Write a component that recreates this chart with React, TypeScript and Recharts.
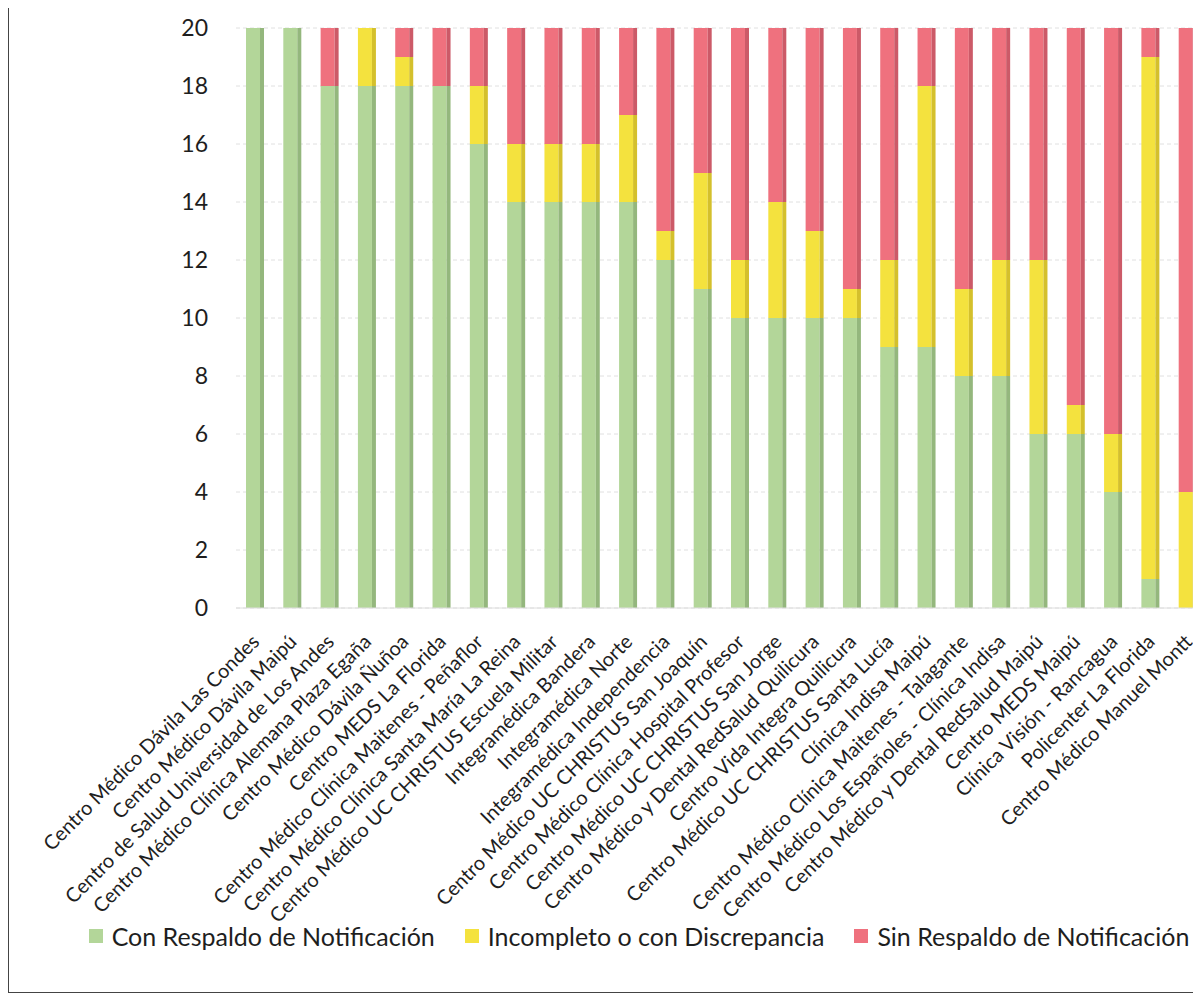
import { BarChart, Bar, XAxis, YAxis, CartesianGrid, Legend } from "recharts";

const centros = [
  "Centro Médico Dávila Las Condes",
  "Centro Médico Dávila Maipú",
  "Centro de Salud Universidad de Los Andes",
  "Centro Médico Clínica Alemana Plaza Egaña",
  "Centro Médico Dávila Ñuñoa",
  "Centro MEDS La Florida",
  "Centro Médico Clínica Maitenes - Peñaflor",
  "Centro Médico Clínica Santa María La Reina",
  "Centro Médico UC CHRISTUS Escuela Militar",
  "Integramédica Bandera",
  "Integramédica Norte",
  "Integramédica Independencia",
  "Centro Médico UC CHRISTUS San Joaquín",
  "Centro Médico Clínica Hospital Profesor",
  "Centro Médico UC CHRISTUS San Jorge",
  "Centro Médico y Dental RedSalud Quilicura",
  "Centro Vida Integra Quilicura",
  "Centro Médico UC CHRISTUS Santa Lucía",
  "Clínica Indisa Maipú",
  "Centro Médico Clínica Maitenes - Talagante",
  "Centro Médico Los Españoles - Clínica Indisa",
  "Centro Médico y Dental RedSalud Maipú",
  "Centro MEDS Maipú",
  "Clínica Visión - Rancagua",
  "Policenter La Florida",
  "Centro Médico Manuel Montt",
];

const conRespaldo = [20, 20, 18, 18, 18, 18, 16, 14, 14, 14, 14, 12, 11, 10, 10, 10, 10, 9, 9, 8, 8, 6, 6, 4, 1, 0];
const incompleto = [0, 0, 0, 2, 1, 0, 2, 2, 2, 2, 3, 1, 4, 2, 4, 3, 1, 3, 9, 3, 4, 6, 1, 2, 18, 4];
const sinRespaldo = [0, 0, 2, 0, 1, 2, 2, 4, 4, 4, 3, 7, 5, 8, 6, 7, 9, 8, 2, 9, 8, 8, 13, 14, 1, 16];

const yTicks = [0, 2, 4, 6, 8, 10, 12, 14, 16, 18, 20];

const data = centros.map((nombre, i) => ({
  nombre,
  con: conRespaldo[i],
  inc: incompleto[i],
  sin: sinRespaldo[i],
}));

const FONT = "Lato, 'Open Sans', sans-serif";

// barra con cara lateral oscura, imitando el 3D de Excel
const bar3d = (side: string) => (props: any) => {
  const { x, y, width, height, fill } = props;
  if (!height || height <= 0) return <g />;
  const s = 4;
  return (
    <g>
      <rect x={x} y={y} width={width - s} height={height} fill={fill} />
      <rect x={x + width - s} y={y} width={s} height={height} fill={side} />
    </g>
  );
};

const SlantTick = (props: any) => {
  const { x, y, payload } = props;
  return (
    <g transform={`translate(${x + 6},${y + 27})`}>
      <text
        textAnchor="end"
        transform="rotate(-45)"
        fontSize={20}
        fontFamily={FONT}
        fill="#1e1e1e"
      >
        {payload.value}
      </text>
    </g>
  );
};

const LegendBox = ({ payload }: any) => (
  <div style={{ display: "flex", justifyContent: "center", fontFamily: FONT, fontSize: 25, color: "#1e1e1e" }}>
    {payload.map((p: any, i: number) => (
      <div key={p.value} style={{ display: "flex", alignItems: "center", marginLeft: i ? 30 : 0 }}>
        <span style={{ width: 14, height: 14, background: p.color, display: "inline-block", marginRight: 9 }} />
        {p.value}
      </div>
    ))}
  </div>
);

export default function App() {
  return (
    <div
      style={{
        width: 1192,
        height: 984,
        borderLeft: "1.5px solid #444",
        borderBottom: "1.5px solid #444",
        overflow: "hidden",
        position: "relative",
        background: "#fff",
      }}
    >
      <BarChart
        width={1200}
        height={984}
        data={data}
        margin={{ top: 20, right: 3, left: 0, bottom: 0 }}
        barSize={18}
      >
        <CartesianGrid vertical={false} stroke="#e0e0e0" strokeDasharray="4 3" />
        <XAxis
          dataKey="nombre"
          interval={0}
          height={384}
          tick={<SlantTick />}
          tickLine={false}
          axisLine={{ stroke: "#dedede" }}
        />
        <YAxis
          width={227}
          domain={[0, 20]}
          ticks={yTicks}
          tickLine={false}
          axisLine={false}
          tickMargin={22}
          tick={{ fontSize: 23, fontFamily: FONT, fill: "#1e1e1e" }}
        />
        <Legend
          layout="horizontal"
          verticalAlign="middle"
          align="center"
          wrapperStyle={{ top: 913, left: 60, width: 1140 }}
          content={<LegendBox />}
        />
        <Bar dataKey="con" name="Con Respaldo de Notificación" stackId="a" fill="#b3d699" shape={bar3d("#94b77d")} isAnimationActive={false} />
        <Bar dataKey="inc" name="Incompleto o con Discrepancia" stackId="a" fill="#f4e23e" shape={bar3d("#d4c02c")} isAnimationActive={false} />
        <Bar dataKey="sin" name="Sin Respaldo de Notificación" stackId="a" fill="#ef717e" shape={bar3d("#cc5a68")} isAnimationActive={false} />
      </BarChart>
    </div>
  );
}
